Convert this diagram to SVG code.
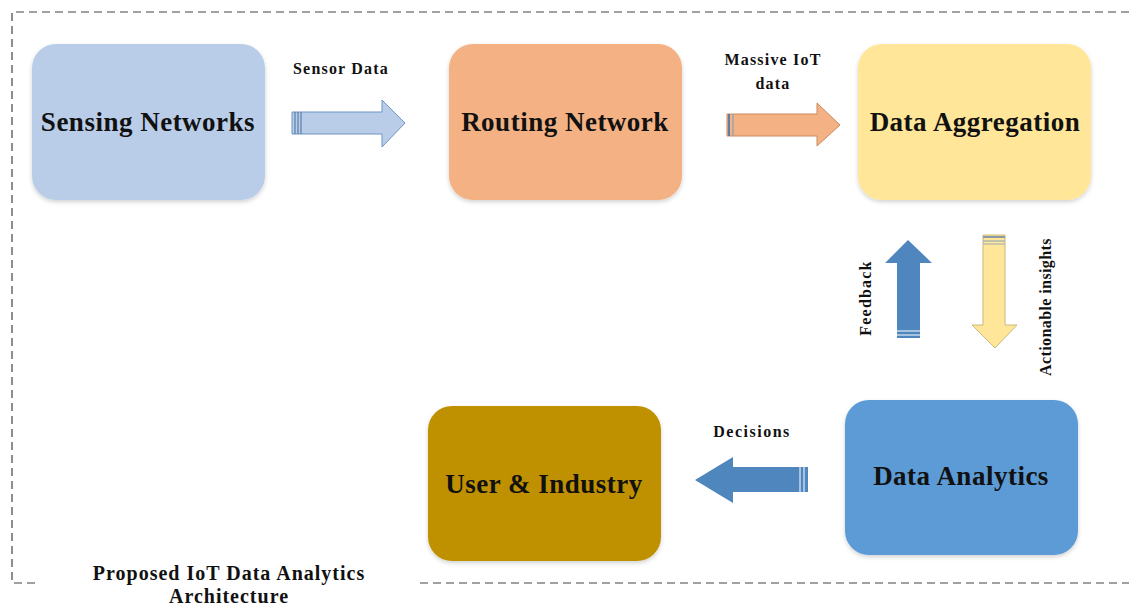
<svg xmlns="http://www.w3.org/2000/svg" width="1129" height="607" viewBox="0 0 1129 607">
<defs>
<filter id="sh" x="-10%" y="-10%" width="120%" height="125%">
<feDropShadow dx="0" dy="2" stdDeviation="2" flood-color="#000" flood-opacity="0.18"/>
</filter>
</defs>
<style>
.node{filter:url(#sh)}
.nt{font-family:"Liberation Serif",serif;font-weight:bold;font-size:27px;letter-spacing:0.5px;fill:#111;text-anchor:middle}
.lbl{font-family:"Liberation Serif",serif;font-weight:bold;font-size:16px;letter-spacing:1.2px;fill:#111;text-anchor:middle}
.ttl{font-family:"Liberation Serif",serif;font-weight:bold;font-size:20px;letter-spacing:1px;fill:#111;text-anchor:middle}
.border{fill:none;stroke:#444;stroke-width:1.2;stroke-dasharray:8 5}
.stripe{stroke:#5a7fa8;stroke-width:1.2}
</style>
<rect width="1129" height="607" fill="#fff"/>
<g id="frame">
<path class="border" d="M1129 12 H12 V583 H36"/>
<path class="border" d="M420 583 H1129"/>
</g>
<g id="sensing">
<rect class="node" x="32" y="44" width="233" height="156" rx="24" fill="#B9CDE8"/>
<text class="nt" x="148" y="131">Sensing Networks</text>
</g>
<g id="routing">
<rect class="node" x="449" y="44" width="233" height="156" rx="24" fill="#F4B183"/>
<text class="nt" x="565" y="131">Routing Network</text>
</g>
<g id="aggregation">
<rect class="node" x="858" y="44" width="233" height="156" rx="24" fill="#FFE699"/>
<text class="nt" x="975" y="131">Data Aggregation</text>
</g>
<g id="analytics">
<rect class="node" x="845" y="400" width="233" height="155" rx="24" fill="#5B9BD5"/>
<text class="nt" x="961" y="485">Data Analytics</text>
</g>
<g id="user">
<rect class="node" x="428" y="406" width="233" height="155" rx="24" fill="#BF9000"/>
<text class="nt" x="544" y="493">User &amp; Industry</text>
</g>
<g id="connectors">
<g id="c-sensor">
<path d="M292 112 H382 V100 L405 123 L382 147 V134 H292 Z" fill="#B9CDE8" stroke="#6f93c2" stroke-width="1"/>
<line class="stripe" x1="295" y1="112" x2="295" y2="134"/>
<line class="stripe" x1="298" y1="112" x2="298" y2="134"/>
<line class="stripe" x1="301" y1="112" x2="301" y2="134"/>
<text class="lbl" x="341" y="74">Sensor Data</text>
</g>
<g id="c-massive">
<path d="M727 114 H817 V103 L840 125 L817 146 V136 H727 Z" fill="#F4B183" stroke="#c98a5e" stroke-width="1"/>
<line x1="729" y1="114" x2="729" y2="136" stroke="#5a7fa8" stroke-width="2"/>
<line x1="733" y1="114" x2="733" y2="136" stroke="#8aa0b8" stroke-width="1.2"/>
<text class="lbl" x="773" y="65">Massive IoT</text>
<text class="lbl" x="773" y="89">data</text>
</g>
<g id="c-feedback">
<path d="M897 338 V263 H885 L908 240 L932 263 H920 V338 Z" fill="#4F86BE"/>
<line x1="897" y1="331" x2="920" y2="331" stroke="#fff" stroke-width="1"/>
<line x1="897" y1="335" x2="920" y2="335" stroke="#fff" stroke-width="1"/>
<text class="lbl" transform="translate(871 298) rotate(-90)" x="0" y="0">Feedback</text>
</g>
<g id="c-actionable">
<path d="M983 235 V325 H972 L995 348 L1017 325 H1005 V235 Z" fill="#FFE699" stroke="#c9b87a" stroke-width="1"/>
<line x1="983" y1="237" x2="1005" y2="237" stroke="#8a9aa8" stroke-width="2"/>
<line x1="983" y1="241" x2="1005" y2="241" stroke="#9aaab8" stroke-width="1.2"/>
<line x1="983" y1="244" x2="1005" y2="244" stroke="#9aaab8" stroke-width="1"/>
<text class="lbl" style="letter-spacing:0.4px" transform="translate(1051 307) rotate(-90)" x="0" y="0">Actionable insights</text>
</g>
<g id="c-decisions">
<path d="M808 467 H733 V457 L695 480 L733 503 V492 H808 Z" fill="#4F86BE"/>
<line x1="800" y1="467" x2="800" y2="492" stroke="#fff" stroke-width="1"/>
<line x1="804" y1="467" x2="804" y2="492" stroke="#fff" stroke-width="1"/>
<text class="lbl" style="letter-spacing:1.5px" x="752" y="437">Decisions</text>
</g>
</g>
<g id="title">
<text class="ttl" x="229" y="580">Proposed IoT Data Analytics</text>
<text class="ttl" x="229" y="603">Architecture</text>
</g>
</svg>
